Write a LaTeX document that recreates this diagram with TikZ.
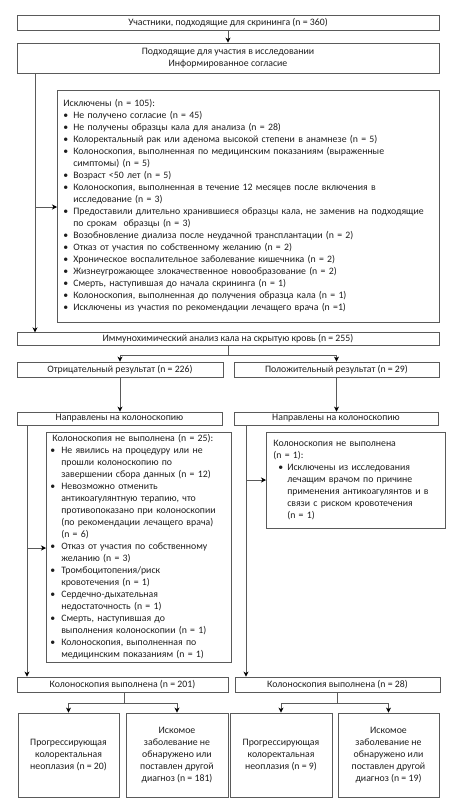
\documentclass[tikz,border=0pt]{standalone}
\usepackage{fontspec}
\setmainfont{Carlito}
\usetikzlibrary{arrows.meta}
\definecolor{linegray}{RGB}{90,90,90}
\definecolor{txt}{RGB}{30,30,30}
\newcommand{\bl}{\textbullet}
\begin{document}
\begin{tikzpicture}[x=1pt,y=-1pt,
  font=\fontsize{9.8}{12}\selectfont, text=txt,
  box/.style={draw=linegray, line width=0.8pt, inner sep=0pt, align=center},
  listbox/.style={draw=linegray, line width=0.8pt, anchor=north west, inner ysep=0pt, align=left},
  arr/.style={draw=linegray, line width=0.8pt, -{Stealth[length=5pt,width=5pt,inset=1.5pt,color=black]}},
  ln/.style={draw=linegray, line width=0.8pt}]
\useasboundingbox[fill=white] (0,0) rectangle (450,800);

\node[box, minimum width=422pt, minimum height=15pt] (b1) at (228,22.5) {Участники, подходящие для скрининга (n = 360)};
\node[box, minimum width=422pt, minimum height=30pt] (b2) at (228,58) {Подходящие для участия в исследовании\\Информированное согласие};

\node[listbox, minimum width=382pt, minimum height=232pt, text width=370pt, inner xsep=6pt] (ex1) at (57,90) {%
\begin{tabular}{@{}l@{\hspace{5pt}}l@{}}
\multicolumn{2}{@{}l@{}}{Исключены (n = 105):}\\
\bl & Не получено согласие (n = 45)\\
\bl & Не получены образцы кала для анализа (n = 28)\\
\bl & Колоректальный рак или аденома высокой степени в анамнезе (n = 5)\\
\bl & Колоноскопия, выполненная по медицинским показаниям (выраженные\\
    & симптомы) (n = 5)\\
\bl & Возраст <50 лет (n = 5)\\
\bl & Колоноскопия, выполненная в течение 12 месяцев после включения в\\
    & исследование (n = 3)\\
\bl & Предоставили длительно хранившиеся образцы кала, не заменив на подходящие\\
    & по срокам\ \ образцы (n = 3)\\
\bl & Возобновление диализа после неудачной трансплантации (n = 2)\\
\bl & Отказ от участия по собственному желанию (n = 2)\\
\bl & Хроническое воспалительное заболевание кишечника (n = 2)\\
\bl & Жизнеугрожающее злокачественное новообразование (n = 2)\\
\bl & Смерть, наступившая до начала скрининга (n = 1)\\
\bl & Колоноскопия, выполненная до получения образца кала (n = 1)\\
\bl & Исключены из участия по рекомендации лечащего врача (n =1)
\end{tabular}};

\node[box, minimum width=422pt, minimum height=12.5pt] (ift) at (228,339) {Иммунохимический анализ кала на скрытую кровь (n = 255)};

\node[box, minimum width=206pt, minimum height=15pt] (neg) at (120,369.5) {Отрицательный результат (n = 226)};
\node[box, minimum width=205pt, minimum height=15pt] (pos) at (336.5,369.5) {Положительный результат (n = 29)};

\node[box, minimum width=205pt, minimum height=13pt] (dl) at (119.5,418.5) {Направлены на колоноскопию};
\node[box, minimum width=204pt, minimum height=13pt] (dr) at (336,418.5) {Направлены на колоноскопию};

\node[listbox, minimum width=183pt, minimum height=230pt, text width=177pt, inner xsep=4pt] (exl) at (46,432) {%
\begin{tabular}{@{}l@{\hspace{6pt}}l@{}}
\multicolumn{2}{@{}l@{}}{\hspace{2pt}Колоноскопия не выполнена (n = 25):}\\
\bl & Не явились на процедуру или не\\
    & прошли колоноскопию по\\
    & завершении сбора данных (n = 12)\\
\bl & Невозможно отменить\\
    & антикоагулянтную терапию, что\\
    & противопоказано при колоноскопии\\
    & (по рекомендации лечащего врача)\\
    & (n = 6)\\
\bl & Отказ от участия по собственному\\
    & желанию (n = 3)\\
\bl & Тромбоцитопения/риск\\
    & кровотечения (n = 1)\\
\bl & Сердечно-дыхательная\\
    & недостаточность (n = 1)\\
\bl & Смерть, наступившая до\\
    & выполнения колоноскопии (n = 1)\\
\bl & Колоноскопия, выполненная по\\
    & медицинским показаниям (n = 1)
\end{tabular}};

\node[listbox, minimum width=172pt, minimum height=96pt, text width=165pt, inner xsep=7pt] (exr) at (266,432) {%
\begin{tabular}{@{}l@{\hspace{4pt}}l@{}}
\multicolumn{2}{@{}l@{}}{Колоноскопия не выполнена}\\
\multicolumn{2}{@{}l@{}}{(n = 1):}\\
\hspace{5pt}\bl & Исключены из исследования\\
    & лечащим врачом по причине\\
    & применения антикоагулянтов и в\\
    & связи с риском кровотечения\\
    & (n = 1)
\end{tabular}};

\node[box, minimum width=211pt, minimum height=15pt] (cl) at (122.5,684.5) {Колоноскопия выполнена (n = 201)};
\node[box, minimum width=205pt, minimum height=15pt] (cr) at (337.5,684.5) {Колоноскопия выполнена (n = 28)};

\node[box, minimum width=101pt, minimum height=84pt] (ra) at (68.5,755) {Прогрессирующая\\колоректальная\\неоплазия (n = 20)};
\node[box, minimum width=102pt, minimum height=84pt] (rb) at (177,755) {Искомое\\заболевание не\\обнаружено или\\поставлен другой\\диагноз (n = 181)};
\node[box, minimum width=102pt, minimum height=84pt] (rc) at (281,755) {Прогрессирующая\\колоректальная\\неоплазия (n = 9)};
\node[box, minimum width=101pt, minimum height=84pt] (rd) at (388.5,755) {Искомое\\заболевание не\\обнаружено или\\поставлен другой\\диагноз (n = 19)};

% connectors
\draw[arr] (b1) -- (b2);
\coordinate (t1) at (35,73);
\coordinate (j1) at (35,207);
\draw[arr] (t1) -- (ift.north -| t1);
\draw[arr] (j1) -- (ex1.west |- j1);

\coordinate (s1) at (228,355);
\draw[ln] (ift.south) -- (s1);
\draw[ln] (s1 -| neg) -- (s1 -| pos);
\draw[arr] (s1 -| neg) -- (neg.north);
\draw[arr] (s1 -| pos) -- (pos.north);
\draw[arr] (neg.south) -- (dl.north -| neg.south);
\draw[arr] (pos.south) -- (dr.north -| pos.south);

\coordinate (tl) at (27,425);
\coordinate (jl) at (27,548);
\draw[arr] (tl) -- (cl.north -| tl);
\draw[arr] (jl) -- (exl.west |- jl);
\coordinate (tr) at (246,425);
\coordinate (jr) at (246,480);
\draw[arr] (tr) -- (cr.north -| tr);
\draw[arr] (jr) -- (exr.west |- jr);

\coordinate (sl) at (124,703);
\draw[ln] (cl.south -| sl) -- (sl);
\draw[ln] (sl -| ra) -- (sl -| rb);
\draw[arr] (sl -| ra) -- (ra.north);
\draw[arr] (sl -| rb) -- (rb.north);
\coordinate (sr) at (337.5,703);
\draw[ln] (cr.south) -- (sr);
\draw[ln] (sr -| rc) -- (sr -| rd);
\draw[arr] (sr -| rc) -- (rc.north);
\draw[arr] (sr -| rd) -- (rd.north);
\end{tikzpicture}
\end{document}
